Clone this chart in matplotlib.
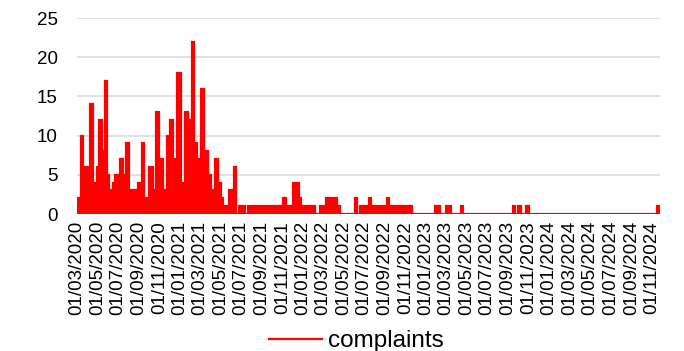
import matplotlib
matplotlib.use("Agg")
import matplotlib.pyplot as plt
import pandas as pd

plt.rcParams['font.family'] = ['Liberation Sans', 'DejaVu Sans']

# ---- data (start date of each level, complaints level) ----
seg_start = [
    "2020-03-01", "2020-03-12", "2020-03-18", "2020-04-09", "2020-04-18", "2020-04-30",
    "2020-05-06", "2020-05-13", "2020-05-22", "2020-05-30", "2020-06-05", "2020-06-17",
    "2020-06-23", "2020-07-03", "2020-07-08", "2020-07-15", "2020-07-24", "2020-08-02",
    "2020-08-28", "2020-09-04", "2020-09-10", "2020-09-17", "2020-09-27", "2020-10-02",
    "2020-10-12", "2020-10-21", "2020-10-30", "2020-11-05", "2020-11-12", "2020-11-22",
    "2020-12-02", "2020-12-12", "2020-12-20", "2020-12-24", "2021-01-03", "2021-01-16",
    "2021-01-23", "2021-01-28", "2021-02-04", "2021-02-11", "2021-02-19", "2021-02-27",
    "2021-03-05", "2021-03-12", "2021-03-18", "2021-03-26", "2021-04-02", "2021-04-09",
    "2021-04-15", "2021-04-23", "2021-05-01", "2021-05-09", "2021-05-27", "2021-06-10",
    "2021-06-16",
    "2021-06-25", "2021-07-02", "2021-07-07", "2021-07-13", "2021-07-20", "2021-07-27",
    "2021-08-02", "2021-08-08", "2021-08-14", "2021-08-20", "2021-08-26", "2021-09-01",
    "2021-09-07", "2021-09-13", "2021-09-19", "2021-09-25", "2021-10-02", "2021-10-10",
    "2021-10-12", "2021-11-02", "2021-11-11", "2021-12-02", "2021-12-20", "2021-12-27",
    "2022-02-05", "2022-02-20", "2022-03-10", "2022-03-28", "2022-04-03", "2022-04-12",
    "2022-04-20", "2022-06-04", "2022-06-10", "2022-06-19", "2022-07-15", "2022-07-21",
    "2022-09-06", "2022-09-13", "2022-10-15", "2022-10-20", "2022-11-19",
    "2023-01-27", "2023-02-11", "2023-03-02", "2023-03-17", "2023-04-14", "2023-04-20",
    "2023-09-15", "2023-09-22", "2023-10-02", "2023-10-09", "2023-10-24", "2023-11-01",
    "2024-11-15",
]
seg_value = [
    2, 10, 6, 14, 4, 6,
    12, 8, 17, 5, 3, 4,
    5, 2, 7, 5, 9, 3,
    4, 2, 9, 2, 0, 6,
    3, 13, 6, 7, 3, 10,
    12, 7, 5, 18, 4, 13,
    10, 12, 22, 9, 7, 5,
    16, 7, 8, 5, 2, 3,
    7, 4, 2, 1, 3, 6,
    0,
    1, 0, 1, 0, 1, 0,
    1, 0, 1, 0, 1, 0,
    1, 0, 1, 0, 1, 0,
    1, 2, 1, 4, 2, 1,
    0, 1, 2, 1, 2, 1,
    0, 2, 0, 1, 2, 1,
    2, 1, 0, 1, 0,
    1, 0, 1, 0, 1, 0,
    1, 0, 1, 0, 1, 0,
    1,
]
end_date = "2024-11-25"
series_name = "complaints"
tick_dates = pd.date_range("2020-03-01", "2024-11-01", freq="2MS")
y_ticks = [0, 5, 10, 15, 20, 25]

x = pd.to_datetime(seg_start + [end_date])
y = seg_value + [seg_value[-1]]

fig = plt.figure(figsize=(6.84, 3.51), dpi=100)
ax = fig.add_axes([0.1126, 0.3903, 0.8523, 0.5584])

ax.fill_between(x, y, 0, step='post', color='#ff0000', lw=0, zorder=3)
ax.plot(x, y, drawstyle='steps-post', color='#ff0000', lw=1.6,
        label=series_name, zorder=4, solid_joinstyle='miter')

ax.set_xlim(x[0], x[-1])
ax.set_ylim(0, 25)
ax.set_yticks(y_ticks)
ax.set_xticks(tick_dates)
ax.set_xticklabels([d.strftime('%d/%m/%Y') for d in tick_dates], rotation=90)

ax.grid(axis='y', color='#d9d9d9', lw=1.1, zorder=0)
ax.set_axisbelow(True)
for s in ax.spines.values():
    s.set_visible(False)
ax.tick_params(axis='both', length=0, labelsize=13.5, colors='#000000')
ax.tick_params(axis='y', pad=14)
ax.tick_params(axis='x', pad=5)

fig.legend(loc='center', bbox_to_anchor=(0.521, 0.028), frameon=False,
           handlelength=2.15, fontsize=17.5, handletextpad=0.25)

fig.savefig("out.png", dpi=100)
